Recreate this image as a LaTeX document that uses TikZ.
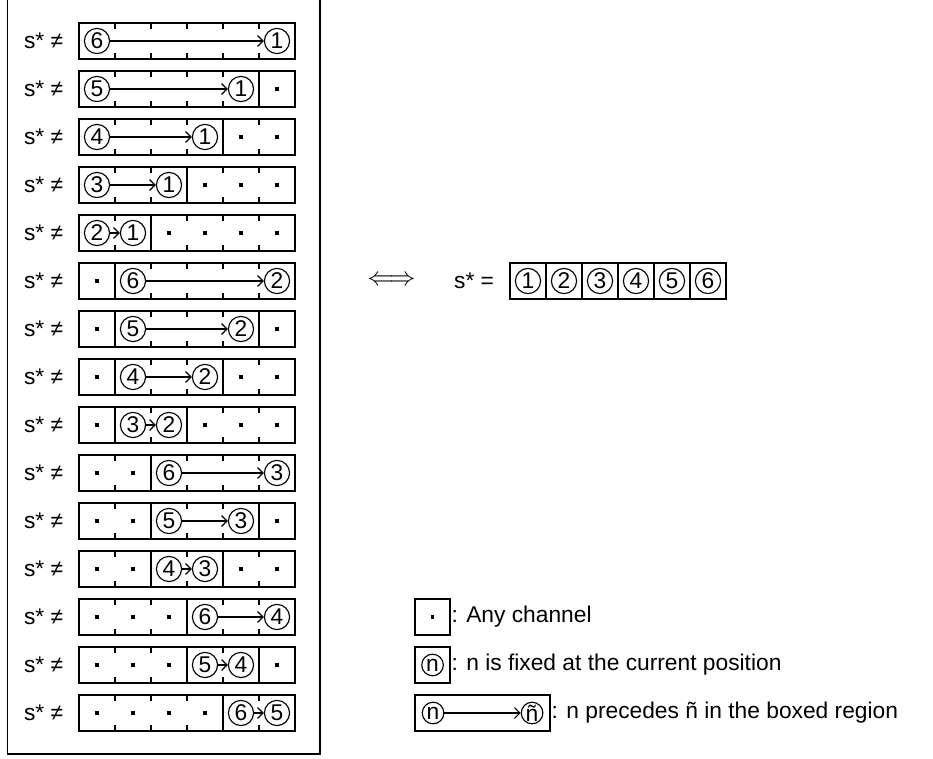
\documentclass[tikz,border=0pt]{standalone}
\usepackage{fontspec}
\setmainfont{Liberation Sans}
\usetikzlibrary{arrows.meta, positioning, calc}
\tikzset{
  every node/.append style={font=\fontsize{18}{21}\selectfont},
  cell/.style={draw, line width=1.1pt},
  tick/.style={line width=1pt},
  num/.style={circle, draw, line width=0.9pt, inner sep=0pt, minimum size=0.7cm},
  legnum/.style={num, minimum size=0.6cm},
  anych/.style={fill, inner sep=0pt, minimum size=2.6pt},
  arr/.style={-{Straight Barb[length=1.5mm, width=3mm]}, line width=0.9pt},
}

\begin{document}
\begin{tikzpicture}
  \useasboundingbox (0,0) rectangle (25.917,-21.083);
  \draw[line width=1.4pt] (0.208,0) |- (8.889,-20.944) -- (8.889,0);

  \foreach \lft/\len [count=\r from 0] in {0/6, 0/5, 0/4, 0/3, 0/2, 1/5, 1/4, 1/3, 1/2, 2/4, 2/3, 2/2, 3/3, 3/2, 4/2} {
    \pgfmathtruncatemacro{\rgt}{\lft+\len}
    \pgfmathtruncatemacro{\lo}{\lft+1}
    \begin{scope}[yshift=-\r*1.3333cm]
      \node (neq\r) at (1.21,-1.139) {s* ≠};
      \draw[cell] (2.194,-0.639) rectangle (8.194,-1.639);
      \foreach \j in {1,...,5}
        \draw[tick] (2.194+\j,-0.639) -- ++(0,-0.16) (2.194+\j,-1.639) -- ++(0,0.16);
      \ifnum\lft>0 \draw[cell] (2.194+\lft,-0.639) -- ++(0,-1); \fi
      \ifnum\rgt<6 \draw[cell] (2.194+\rgt,-0.639) -- ++(0,-1); \fi
      \foreach \j in {0,...,5} {
        \ifnum\j<\lft \node[anych] (dot\r-\j) at (2.694+\j,-1.139) {}; \fi
        \ifnum\j<\rgt \else \node[anych] (dot\r-\j) at (2.694+\j,-1.139) {}; \fi
      }
      \node[num] (hd\r) at (2.694+\lft,-1.139) {\rgt};
      \node[num] (tl\r) at (1.694+\rgt,-1.139) {\lo};
      \draw[arr] (hd\r) -- (tl\r);
    \end{scope}
  }

  \node[font=\fontsize{21}{24}\selectfont] (iff) at (10.875,-7.806) {$\Longleftrightarrow$};
  \node (eq) at (13.17,-7.806) {s* =};
  \foreach \n in {1,...,6} {
    \draw[cell] (13.167+\n,-7.306) rectangle ++(1,-1);
    \node[num] (opt\n) at (13.667+\n,-7.806) {\n};
  }

  \draw[cell] (11.53,-16.639) rectangle ++(0.97,-1);
  \node[anych] (anyd) at (12.015,-17.139) {};
  \node[anchor=west, inner sep=1pt] (anyt) at (12.5,-17.139) {: Any channel};
  \draw[cell] (11.53,-17.972) rectangle ++(0.97,-1);
  \node[legnum] (fixn) at (12.015,-18.472) {n};
  \node[anchor=west, inner sep=1pt] (fixt) at (12.5,-18.472) {: n is fixed at the current position};
  \draw[cell] (11.53,-19.306) rectangle ++(3.75,-1);
  \node[legnum] (prea) at (12.03,-19.806) {n};
  \node[legnum] (preb) at (14.78,-19.806) {ñ};
  \draw[arr] (prea) -- (preb);
  \node[anchor=west, inner sep=1pt] (pret) at (15.28,-19.806) {: n precedes ñ in the boxed region};
\end{tikzpicture}
\end{document}
